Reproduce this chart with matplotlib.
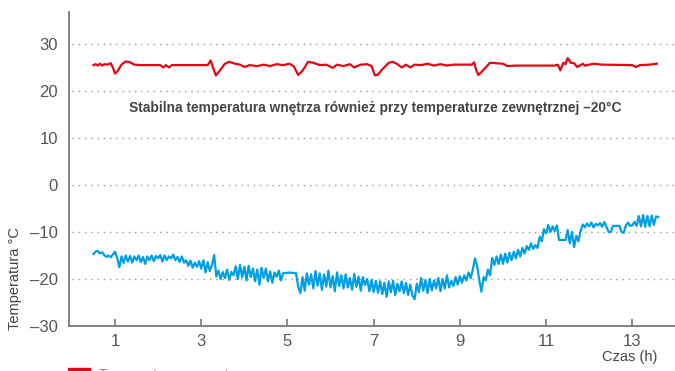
import numpy as np
import matplotlib.pyplot as plt
from matplotlib.patches import Patch

# indoor temperature (red), irregular logger points
red_hours = [0.50, 0.55, 0.60, 0.65, 0.70, 0.75, 0.82, 0.90, 0.96, 1.00, 1.06, 1.15, 1.25, 1.35,
             1.45, 1.60, 2.05, 2.12, 2.18, 2.25, 2.32, 3.15, 3.22, 3.28, 3.34, 3.42, 3.55, 3.65,
             3.78, 3.90, 4.00, 4.12, 4.30, 4.45, 4.60, 4.75, 4.90, 5.05, 5.15, 5.25, 5.35, 5.48,
             5.60, 5.75, 5.90, 6.05, 6.15, 6.30, 6.45, 6.55, 6.70, 6.85, 6.95, 7.03, 7.10, 7.20,
             7.35, 7.45, 7.55, 7.65, 7.75, 7.85, 7.95, 8.10, 8.25, 8.40, 8.55, 8.70, 8.85, 9.00,
             9.28, 9.33, 9.38, 9.43, 9.55, 9.70, 9.85, 10.00, 10.10, 10.30, 11.20, 11.27, 11.33,
             11.40, 11.45, 11.50, 11.57, 11.65, 11.72, 11.80, 11.85, 11.90, 12.00, 12.10, 12.30,
             13.00, 13.08, 13.18, 13.40, 13.57]
red_temps = [25.5, 25.7, 25.4, 25.8, 25.4, 25.7, 25.6, 25.9, 24.8, 23.7, 24.2, 25.6, 26.3, 26.1,
             25.6, 25.5, 25.5, 25.0, 25.5, 25.0, 25.5, 25.5, 26.5, 24.8, 23.3, 24.2, 25.8, 26.2,
             25.8, 25.6, 25.1, 25.5, 25.3, 25.6, 25.3, 25.7, 25.5, 25.8, 25.2, 23.4, 24.3, 26.2,
             26.0, 25.5, 25.6, 24.9, 25.6, 25.3, 25.7, 25.0, 25.6, 25.7, 25.3, 23.3, 23.5, 24.6,
             26.0, 26.2, 25.7, 25.0, 25.6, 25.0, 25.6, 25.5, 25.8, 25.4, 25.7, 25.4, 25.6, 25.6,
             25.6, 26.1, 24.4, 23.4, 24.5, 26.0, 25.9, 25.8, 25.3, 25.4, 25.4, 25.6, 24.4,
             26.0, 25.7, 27.0, 26.0, 25.9, 25.1, 25.5, 25.8, 25.4, 25.6, 25.8, 25.6,
             25.5, 25.1, 25.5, 25.6, 25.8]

# outdoor temperature (blue), logged every 3 minutes from 0.5 h
blue_start, blue_step = 0.5, 0.05
blue_temps = [
    -14.7, -14.2, -14.0, -14.6, -14.3, -14.9, -15.3, -15.0, -15.4, -14.8,
    -14.2, -15.5, -17.5, -15.2, -16.6, -15.0, -16.3, -15.1, -16.5, -15.2,
    -16.0, -15.0, -16.4, -15.3, -16.8, -15.2, -16.0, -15.0, -16.2, -15.1,
    -15.6, -14.9, -16.3, -15.0, -16.0, -15.2, -15.6, -14.8, -16.0, -15.3,
    -16.4, -15.2, -16.5, -16.0, -17.2, -16.1, -17.6, -16.5, -17.4, -16.2,
    -17.8, -16.0, -18.6, -16.4, -18.3, -17.0, -14.9, -19.5, -18.2, -20.0,
    -18.5, -19.8, -18.0, -20.2, -18.5, -19.2, -17.3, -20.0, -17.0, -19.6,
    -17.4, -20.3, -17.2, -19.6, -17.8, -20.5, -18.0, -21.2, -17.6, -19.8,
    -17.8, -20.5, -18.4, -20.8, -18.6, -19.5, -18.2, -20.3, -18.8, -18.7,
    -18.7, -18.6, -18.7, -18.7, -18.8, -21.7, -23.0, -19.6, -22.5, -18.8,
    -21.2, -19.0, -22.0, -18.3, -21.4, -18.8, -22.3, -19.0, -21.6, -18.2,
    -21.8, -19.4, -22.6, -18.6, -21.5, -19.2, -22.0, -19.0, -21.8, -19.8,
    -22.3, -18.9, -21.7, -19.5, -22.5, -19.6, -21.3, -20.0, -22.6, -20.2,
    -22.8, -20.4, -22.9, -20.5, -23.2, -20.8, -23.8, -20.5, -22.8, -20.4,
    -23.4, -21.0, -22.6, -20.5, -23.0, -20.8, -23.4, -21.2, -23.5, -24.3,
    -21.0, -22.8, -19.8, -22.5, -20.2, -23.0, -20.0, -22.4, -20.3, -22.0,
    -19.8, -22.6, -20.0, -22.0, -19.2, -21.8, -20.4, -21.5, -19.6, -21.2,
    -19.4, -20.8, -19.2, -20.3, -18.6, -19.8, -18.0, -15.6, -17.2, -20.2,
    -22.7, -19.6, -20.3, -18.0, -19.2, -15.5, -17.0, -15.2, -16.8, -14.8,
    -16.8, -14.6, -16.5, -14.4, -16.0, -14.2, -15.6, -13.8, -15.2, -13.4,
    -14.6, -13.0, -13.8, -12.4, -13.6, -12.8, -13.4, -11.0, -12.0, -9.4,
    -10.3, -8.5, -10.0, -8.8, -9.8, -8.6, -11.7, -11.7, -11.7, -11.7,
    -9.6, -12.4, -10.0, -13.2, -10.8, -12.0, -9.8, -8.4, -9.0, -8.2,
    -8.8, -8.0, -9.0, -8.3, -8.6, -8.1, -8.9, -7.9, -8.9, -10.0,
    -10.0, -8.7, -8.7, -8.7, -8.7, -10.0, -10.2, -8.6, -8.0, -8.7,
    -8.6, -7.8, -8.7, -6.6, -8.8, -6.4, -8.9, -6.6, -8.8, -6.5,
    -8.5, -6.7, -6.8,
]
blue_hours = blue_start + blue_step * np.arange(len(blue_temps))

x_ticks = [1, 3, 5, 7, 9, 11, 13]
y_ticks = [-30, -20, -10, 0, 10, 20, 30]
note = "Stabilna temperatura wnętrza również przy temperaturze zewnętrznej \u201320°C"

plt.rcParams["font.family"] = ["Liberation Sans", "DejaVu Sans"]

fig = plt.figure(figsize=(6.75, 3.71), dpi=100)
ax = fig.add_axes([69 / 675, 45 / 371, 1 - 69 / 675, (326 - 12) / 371])

for y in y_ticks[1:]:
    ax.axhline(y, xmin=0.005, color="#999999", lw=1.0, ls=(0, (1, 3.5)), zorder=0)

ax.plot(red_hours, red_temps, color="#e30613", lw=1.6, zorder=3)
ax.plot(blue_hours, blue_temps, color="#009fe3", lw=1.6, zorder=3)

ax.set_xlim(-0.067, 13.99)
ax.set_ylim(-30, 36.8)
ax.set_xticks(x_ticks)
ax.set_yticks(y_ticks)
ax.set_yticklabels([str(v).replace("-", "\u2013") for v in y_ticks])
ax.tick_params(axis="x", direction="in", length=5, width=1.2, color="#777777",
               labelsize=12, labelcolor="#555555", pad=6)
ax.tick_params(axis="y", length=0, labelsize=12, labelcolor="#555555", pad=8)

for side in ("top", "right"):
    ax.spines[side].set_visible(False)
for side in ("left", "bottom"):
    ax.spines[side].set_color("#777777")
    ax.spines[side].set_linewidth(1.3)

ax.text(7.03, 16.4, note, ha="center", va="center", fontsize=9.9,
        fontweight="bold", color="#444444")

fig.text(15 / 675, 41 / 371, "Temperatura °C", rotation=90, ha="center", va="bottom",
         fontsize=10.5, color="#444444")
fig.text(630 / 675, 14 / 371, "Czas (h)", ha="center", va="center",
         fontsize=10.5, color="#444444")

# legend sits mostly below the visible canvas, only its top edge shows
fig.legend(handles=[Patch(color="#e30613")], labels=["Temperatura wewnętrzna"],
           loc="upper left", bbox_to_anchor=(68 / 675, 3 / 371), frameon=False,
           borderaxespad=0, borderpad=0, handlelength=1.6, handleheight=1.0,
           handletextpad=0.6, fontsize=10, labelcolor="#888888")

fig.savefig("out.png", dpi=100)
